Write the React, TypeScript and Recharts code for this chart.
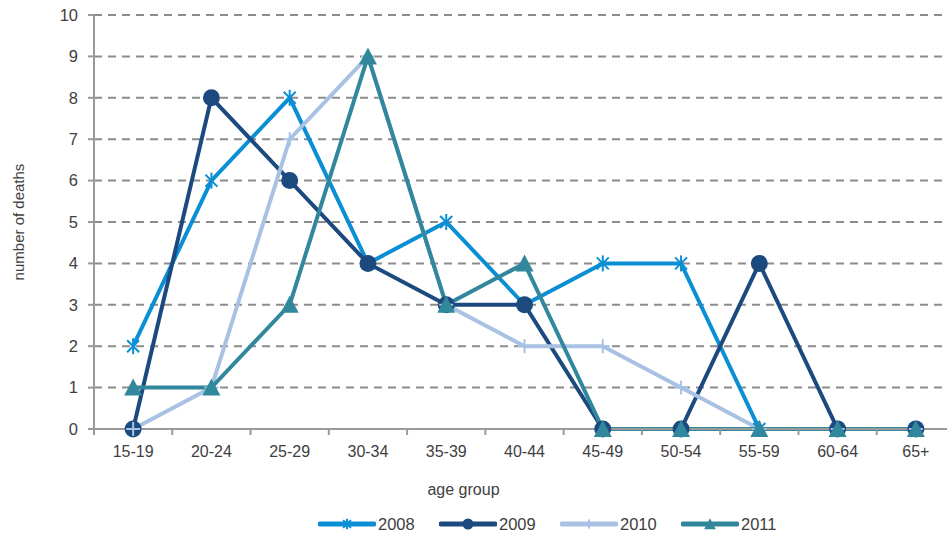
import { CartesianGrid, Legend, Line, LineChart, XAxis, YAxis } from "recharts";

const AGE_GROUPS = ["15-19", "20-24", "25-29", "30-34", "35-39", "40-44", "45-49", "50-54", "55-59", "60-64", "65+"];
const DEATHS_2008 = [2, 6, 8, 4, 5, 3, 4, 4, 0, 0, 0];
const DEATHS_2009 = [0, 8, 6, 4, 3, 3, 0, 0, 4, 0, 0];
const DEATHS_2010 = [0, 1, 7, 9, 3, 2, 2, 1, 0, 0, 0];
const DEATHS_2011 = [1, 1, 3, 9, 3, 4, 0, 0, 0, 0, 0];
const Y_TICKS = [0, 1, 2, 3, 4, 5, 6, 7, 8, 9, 10];

const data = AGE_GROUPS.map((age, i) => ({
  age,
  y2008: DEATHS_2008[i],
  y2009: DEATHS_2009[i],
  y2010: DEATHS_2010[i],
  y2011: DEATHS_2011[i],
}));

const TEXT = "#404040";
const AXIS = "#9a9a9a";

type Shape = "star" | "circle" | "plus" | "triangle";

const SERIES: { key: string; name: string; color: string; shape: Shape }[] = [
  { key: "y2008", name: "2008", color: "#0a8fd5", shape: "star" },
  { key: "y2009", name: "2009", color: "#1c4a7e", shape: "circle" },
  { key: "y2010", name: "2010", color: "#a9c2e3", shape: "plus" },
  { key: "y2011", name: "2011", color: "#31879c", shape: "triangle" },
];

const Marker = ({ cx, cy, shape, color, s = 1 }: { cx: number; cy: number; shape: Shape; color: string; s?: number }) => {
  if (shape === "star") {
    const a = 6 * s;
    const v = 8 * s;
    return (
      <g stroke={color} strokeWidth={2}>
        <line x1={cx - a} y1={cy - a} x2={cx + a} y2={cy + a} />
        <line x1={cx - a} y1={cy + a} x2={cx + a} y2={cy - a} />
        <line x1={cx} y1={cy - v} x2={cx} y2={cy + v} />
      </g>
    );
  }
  if (shape === "circle") return <circle cx={cx} cy={cy} r={8.5 * s} fill={color} />;
  if (shape === "plus") {
    const a = 7 * s;
    return (
      <g stroke={color} strokeWidth={2}>
        <line x1={cx - a} y1={cy} x2={cx + a} y2={cy} />
        <line x1={cx} y1={cy - a} x2={cx} y2={cy + a} />
      </g>
    );
  }
  return (
    <path
      d={`M${cx},${cy - 9 * s} L${cx + 9 * s},${cy + 8 * s} L${cx - 9 * s},${cy + 8 * s} Z`}
      fill={color}
    />
  );
};

const AgeTick = (props: any) => {
  const { x, y, payload } = props;
  const half = payload?.offset || 39;
  const axisY = y - 8;
  return (
    <g>
      <line x1={x - half} y1={axisY} x2={x - half} y2={axisY + 6} stroke={AXIS} strokeWidth={2} />
      <text x={x} y={axisY + 28} textAnchor="middle" fill={TEXT} fontSize={16}>
        {payload.value}
      </text>
    </g>
  );
};

const renderLegend = () => (
  <div style={{ display: "flex", paddingLeft: 318, height: 28, alignItems: "center" }}>
    {SERIES.map((s) => (
      <div key={s.key} style={{ display: "flex", alignItems: "center", width: 121 }}>
        <svg width={58} height={20}>
          <line x1={2} y1={10} x2={56} y2={10} stroke={s.color} strokeWidth={5} strokeLinecap="round" />
          <Marker cx={29} cy={10} shape={s.shape} color={s.color} s={0.65} />
        </svg>
        <span style={{ color: TEXT, fontSize: 16.5, marginLeft: 2 }}>{s.name}</span>
      </div>
    ))}
  </div>
);

export default function App() {
  return (
    <div
      style={{
        position: "absolute",
        left: 0,
        top: 0,
        width: 947,
        height: 538,
        overflow: "hidden",
        background: "#fff",
        fontFamily: "'Liberation Sans', Arial, sans-serif",
      }}
    >
      <LineChart width={960} height={538} data={data} margin={{ top: 15, right: 5, bottom: 0, left: 0 }}>
        <CartesianGrid vertical={false} stroke="#8c8c8c" strokeWidth={2} strokeDasharray="8 6" />
        <XAxis
          dataKey="age"
          scale="band"
          height={81}
          axisLine={{ stroke: AXIS, strokeWidth: 2 }}
          tickLine={false}
          tick={<AgeTick />}
          interval={0}
          label={{
            content: ({ viewBox }: any) => (
              <text
                x={viewBox.x + viewBox.width / 2 - 61}
                y={viewBox.y + 66}
                textAnchor="middle"
                fill={TEXT}
                fontSize={16}
              >
                age group
              </text>
            ),
          }}
        />
        <YAxis
          width={94}
          domain={[0, 10]}
          ticks={Y_TICKS}
          interval={0}
          axisLine={{ stroke: AXIS, strokeWidth: 2 }}
          tickLine={{ stroke: AXIS, strokeWidth: 2 }}
          tickSize={6}
          tickMargin={10}
          tick={{ fill: TEXT, fontSize: 16.5 }}
          label={{
            content: ({ viewBox }: any) => {
              const cx = 18;
              const cy = viewBox.y + viewBox.height / 2;
              return (
                <text x={cx} y={cy} transform={`rotate(-90 ${cx} ${cy})`} textAnchor="middle" dominantBaseline="central" fill={TEXT} fontSize={15}>
                  number of deaths
                </text>
              );
            },
          }}
        />
        <Legend verticalAlign="bottom" content={renderLegend} wrapperStyle={{ left: 0, width: 960, height: 28 }} />
        {SERIES.map((s) => (
          <Line
            key={s.key}
            dataKey={s.key}
            name={s.name}
            stroke={s.color}
            strokeWidth={4}
            type="linear"
            isAnimationActive={false}
            dot={(p: any) => <Marker key={`${s.key}-${p.index}`} cx={p.cx} cy={p.cy} shape={s.shape} color={s.color} />}
            activeDot={false}
          />
        ))}
      </LineChart>
    </div>
  );
}
